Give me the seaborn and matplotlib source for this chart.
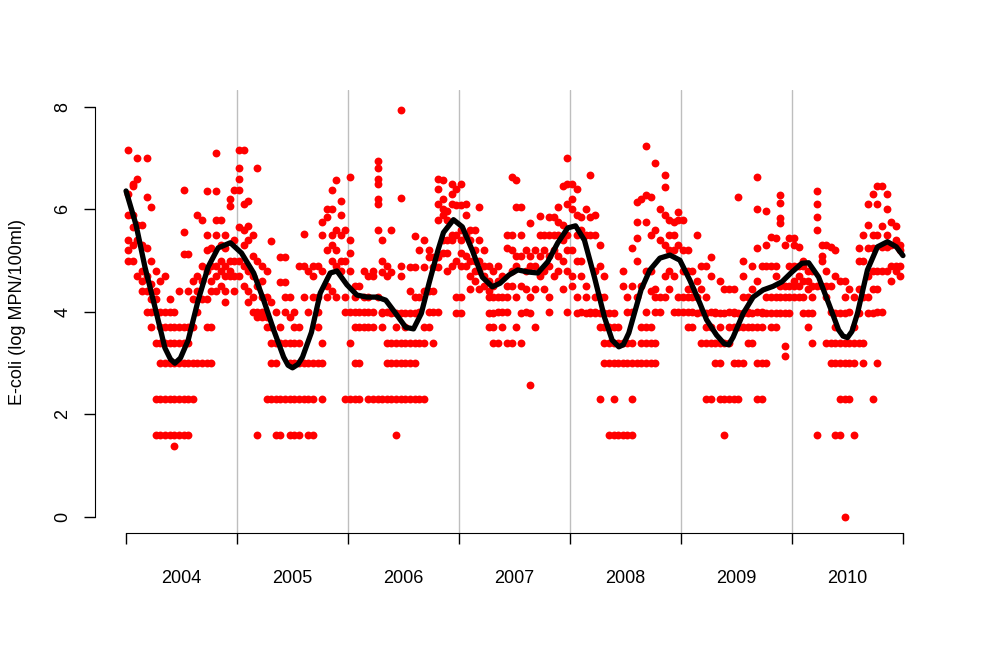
import pandas as pd
import seaborn as sns
import matplotlib.pyplot as plt

sns.set_style("white")
plt.rcParams['font.family'] = ['Liberation Sans', 'DejaVu Sans']

# dias de amostragem (duas campanhas por mes)
sample_days = ["01-08", "01-23", "02-07", "02-22", "03-08", "03-23",
               "04-08", "04-23", "05-08", "05-23", "06-08", "06-23",
               "07-08", "07-23", "08-08", "08-23", "09-08", "09-23",
               "10-08", "10-23", "11-08", "11-23", "12-08", "12-23"]

years = [2004, 2005, 2006, 2007, 2008, 2009, 2010]

# E-coli (log MPN/100ml), uma lista por campanha
ecoli_2004 = [
    [7.16, 6.3, 5.4, 5.9, 5.0, 5.2], [6.5, 6.45, 5.9, 5.65, 5.3, 5.0],
    [7.0, 6.6, 5.7, 5.7, 5.4, 4.7], [5.7, 5.3, 4.8, 4.6, 4.4],
    [7.0, 6.25, 5.25, 4.7, 4.4, 4.0], [6.05, 5.0, 4.55, 4.25, 3.7, 4.0],
    [4.8, 4.4, 4.0, 4.25, 3.4, 2.3, 1.6], [4.6, 4.0, 3.7, 3.4, 3.0, 2.3, 1.6],
    [4.7, 4.0, 3.7, 3.4, 2.3, 1.6, 3.0], [4.25, 4.0, 3.7, 3.0, 2.3, 1.6, 3.4],
    [4.0, 3.7, 3.4, 2.3, 1.6, 1.38, 3.0], [4.4, 3.7, 3.4, 3.0, 2.3, 1.6],
    [6.38, 5.56, 5.13, 3.7, 3.4, 3.0, 2.3, 1.6], [5.13, 4.4, 3.7, 3.4, 3.0, 2.3, 1.6],
    [4.6, 4.25, 3.7, 3.0, 2.3], [5.9, 4.7, 4.4, 4.0, 3.0],
    [5.8, 4.9, 4.6, 4.25, 3.0], [6.35, 5.5, 5.2, 4.8, 4.25, 3.7, 3.0],
    [5.25, 4.9, 4.6, 4.4, 3.7, 3.0], [7.1, 6.35, 5.8, 5.5, 4.9, 4.7, 4.4],
    [5.8, 5.3, 5.0, 4.8, 4.5], [5.5, 5.25, 4.9, 4.7, 4.4, 4.2],
    [6.2, 6.06, 5.0, 4.8, 4.7], [6.38, 5.4, 5.0, 4.7, 4.4],
]
ecoli_2005 = [
    [7.16, 6.8, 6.6, 6.38, 5.66, 5.0, 4.7], [7.16, 6.1, 5.6, 5.3, 4.9, 4.5],
    [6.17, 5.68, 5.4, 4.8, 4.4, 4.2], [5.5, 5.1, 4.7, 4.3, 4.0],
    [6.8, 5.0, 4.5, 4.0, 3.9, 1.6], [4.9, 4.6, 4.3, 4.0, 3.9],
    [4.8, 4.3, 3.9, 3.7, 2.3], [5.38, 4.2, 3.7, 3.4, 3.0, 2.3],
    [4.0, 3.4, 3.0, 2.3, 1.6], [5.07, 4.59, 3.7, 3.4, 2.3, 1.6],
    [5.07, 4.59, 4.3, 4.0, 3.4, 2.3], [4.3, 3.9, 3.4, 3.0, 2.3, 1.6],
    [4.0, 3.7, 3.4, 3.0, 2.3, 1.6], [4.9, 3.7, 3.4, 3.0, 2.3, 1.6],
    [5.52, 4.9, 4.3, 3.0, 2.3], [4.8, 4.0, 3.0, 2.3, 1.6],
    [4.9, 4.7, 4.3, 3.0, 2.3, 1.6], [4.9, 4.3, 4.0, 3.7, 3.0],
    [5.75, 5.5, 4.8, 3.4, 3.0, 2.3], [6.0, 5.85, 5.2, 4.3, 4.5],
    [6.38, 6.0, 5.5, 5.3, 5.0, 4.4], [6.57, 5.6, 5.2, 4.9, 4.3],
    [6.17, 5.9, 5.5, 5.0, 4.8], [5.6, 5.0, 4.3, 4.0, 2.3],
]
ecoli_2006 = [
    [6.63, 5.4, 5.15, 4.8, 4.0, 3.4, 2.3], [4.5, 4.3, 4.0, 3.7, 3.0, 2.3],
    [4.5, 4.0, 3.7, 3.0, 2.3], [4.8, 4.3, 4.0, 3.7],
    [4.7, 4.3, 4.0, 3.7, 2.3], [4.8, 4.7, 4.0, 3.7, 2.3],
    [6.95, 6.8, 6.6, 6.5, 6.2, 6.1, 5.6, 4.3, 2.3], [5.4, 5.0, 4.78, 4.0, 3.97, 3.7, 2.3],
    [4.9, 4.7, 4.0, 3.4, 3.0, 2.3], [5.6, 4.78, 3.97, 3.4, 3.0, 2.3],
    [3.97, 3.7, 3.4, 3.0, 2.3, 1.6], [7.94, 6.22, 4.9, 4.7, 3.97, 3.4, 3.0, 2.3],
    [3.97, 3.7, 3.4, 3.0, 2.3], [4.88, 4.4, 3.97, 3.4, 3.0, 2.3],
    [5.48, 4.88, 4.3, 3.97, 3.4, 3.0, 2.3], [5.2, 4.3, 4.0, 3.4, 2.3],
    [5.4, 4.88, 4.4, 3.7, 3.4, 2.3], [5.2, 5.07, 4.4, 4.0, 3.7],
    [5.07, 4.88, 4.4, 4.0, 3.4], [6.6, 6.4, 6.1, 5.8, 5.07, 4.88, 4.0],
    [6.57, 6.2, 6.0, 5.9, 5.4, 5.15], [5.96, 5.8, 5.4, 5.15, 4.8],
    [6.5, 6.3, 6.1, 5.5, 5.4, 4.9], [6.4, 6.08, 5.5, 5.0, 4.3, 3.97],
]
ecoli_2007 = [
    [6.5, 6.08, 5.6, 5.4, 5.15, 4.9, 4.3, 3.97], [6.1, 5.9, 5.5, 5.1, 4.9],
    [5.6, 5.4, 5.0, 4.7, 4.45], [5.6, 5.2, 5.0, 4.8, 4.6],
    [6.05, 5.4, 5.0, 4.8, 4.45], [5.2, 4.9, 4.7, 4.5],
    [4.9, 4.6, 4.4, 4.3, 3.97, 3.7], [4.8, 4.5, 4.3, 3.97, 3.7, 3.4],
    [4.9, 4.6, 4.3, 4.0, 3.4], [4.7, 4.3, 4.0, 3.7],
    [5.5, 5.25, 4.5, 4.3, 4.0, 3.4], [6.63, 5.5, 5.2, 4.8, 4.5, 3.4],
    [6.57, 6.05, 5.1, 4.9, 4.3, 3.7], [6.05, 5.5, 5.1, 4.5, 3.97, 3.4],
    [5.2, 4.8, 4.45, 4.0], [5.73, 5.1, 4.9, 4.3, 3.97, 2.58],
    [5.2, 4.9, 4.45, 3.7], [5.88, 5.5, 5.1, 4.7],
    [5.5, 5.2, 4.8, 4.45], [5.85, 5.5, 5.1, 4.9, 4.3, 4.0],
    [5.85, 5.5, 5.2, 4.7], [6.05, 5.75, 5.5, 5.1, 4.8],
    [6.45, 5.7, 5.4, 5.0, 4.45], [7.0, 6.5, 6.1, 5.5, 5.2, 4.8, 4.0],
]
ecoli_2008 = [
    [6.5, 6.2, 6.0, 5.2, 4.7, 4.5], [6.4, 5.9, 5.5, 5.0, 4.3, 3.97],
    [5.85, 5.6, 5.0, 4.7, 4.0], [6.0, 5.5, 4.5, 4.3, 3.97],
    [6.67, 5.85, 5.5, 4.0, 3.97], [5.9, 5.5, 4.8, 4.3, 4.0, 3.97],
    [5.3, 4.9, 4.3, 3.97, 3.7, 2.3], [4.7, 4.3, 3.97, 3.7, 3.4, 3.0],
    [3.97, 3.7, 3.4, 3.0, 1.6], [3.97, 3.7, 3.4, 3.0, 2.3, 1.6],
    [3.7, 3.4, 3.0, 1.6], [4.8, 4.5, 3.4, 3.0, 1.6],
    [4.3, 4.0, 3.4, 3.0, 1.6], [5.25, 4.5, 4.0, 3.4, 3.0, 2.3, 1.6],
    [6.15, 5.75, 5.45, 5.0, 4.3, 3.0], [6.2, 4.5, 3.7, 3.4, 3.0],
    [7.24, 6.28, 5.76, 4.8, 4.0, 3.7, 3.4, 3.0], [6.25, 5.5, 4.8, 4.4, 3.7, 3.4, 3.0],
    [6.9, 5.6, 4.45, 4.3, 4.0, 3.4, 3.0], [6.0, 5.4, 4.3, 4.0],
    [6.67, 6.44, 5.9, 5.3, 4.7, 4.3], [5.8, 5.5, 5.2, 4.8, 4.45],
    [5.76, 5.5, 5.2, 4.7, 4.0], [5.95, 5.8, 5.3, 4.3, 4.0],
]
ecoli_2009 = [
    [5.8, 5.2, 4.8, 4.3, 4.0], [5.2, 4.8, 4.45, 4.3, 4.0, 3.7],
    [4.8, 4.45, 4.3, 4.0, 3.7], [5.5, 4.6, 4.3, 3.97],
    [4.9, 4.45, 4.0, 3.4], [4.9, 4.3, 3.97, 3.7, 3.4, 2.3],
    [5.07, 4.7, 4.0, 3.7, 3.4, 2.3], [4.0, 3.97, 3.4, 3.0],
    [4.6, 3.97, 3.7, 3.4, 3.0, 2.3], [4.45, 3.97, 3.4, 2.3, 1.6],
    [4.45, 4.0, 3.7, 3.4, 2.3], [4.45, 4.0, 3.97, 3.7, 3.0, 2.3],
    [6.25, 3.97, 3.7, 3.0, 2.3], [5.0, 4.7, 4.3, 3.97, 3.7, 3.0],
    [4.3, 4.0, 3.97, 3.7, 3.4], [4.9, 4.45, 3.97, 3.7, 3.4],
    [6.63, 6.0, 5.25, 4.6, 4.0, 3.7, 3.0, 2.3], [4.9, 4.0, 3.97, 3.7, 3.0, 2.3],
    [5.97, 5.3, 4.9, 4.3, 3.97, 3.0], [5.46, 4.9, 4.3, 3.97, 3.7],
    [5.45, 4.9, 4.7, 4.3, 3.97, 3.7], [6.28, 6.12, 5.83, 5.74, 4.5, 4.3, 3.97],
    [5.3, 4.5, 4.3, 3.97, 3.34, 3.14], [5.44, 4.9, 4.5, 4.3, 3.97],
]
ecoli_2010 = [
    [5.44, 5.3, 4.9, 4.6, 4.5, 4.3], [5.27, 4.9, 4.7, 4.5, 4.3],
    [5.0, 4.9, 4.6, 4.3, 3.97], [4.8, 4.6, 4.45, 3.97, 3.7],
    [4.8, 4.5, 4.3, 3.97, 3.4], [6.36, 6.1, 5.85, 5.6, 4.5, 1.6],
    [5.3, 5.1, 5.0, 4.5], [5.3, 4.8, 4.5, 4.3, 3.4],
    [5.27, 4.5, 4.0, 3.4, 3.0], [5.2, 4.7, 3.97, 3.7, 3.4, 3.0, 1.6],
    [4.6, 3.97, 3.4, 3.0, 2.3, 1.6], [4.6, 4.3, 3.97, 3.4, 3.0, 2.3, 0.0],
    [4.45, 4.0, 3.4, 3.0, 2.3], [4.3, 3.7, 3.4, 3.0, 1.6],
    [5.25, 5.0, 4.45, 3.97, 3.4], [5.5, 5.0, 4.3, 3.4, 3.0],
    [6.1, 5.7, 5.25, 4.7, 4.3, 3.97], [6.3, 5.5, 5.25, 4.8, 4.45, 3.97, 2.3],
    [6.45, 6.1, 5.5, 4.8, 4.45, 4.0, 3.0], [6.45, 5.68, 5.27, 4.8, 4.0],
    [6.3, 6.0, 5.5, 5.27, 4.8], [5.75, 5.3, 4.9, 4.6],
    [5.68, 5.4, 4.9, 4.8], [5.3, 5.2, 4.9, 4.7],
]

# curva suavizada
smooth_year = [2004.00, 2004.09, 2004.17, 2004.26, 2004.35, 2004.40, 2004.44,
               2004.49, 2004.56, 2004.65,
               2004.74, 2004.83, 2004.94, 2005.04, 2005.15, 2005.24, 2005.33,
               2005.42, 2005.46, 2005.50, 2005.55, 2005.59, 2005.67, 2005.75,
               2005.84, 2005.90,
               2005.99, 2006.08, 2006.17, 2006.26, 2006.34, 2006.43, 2006.52,
               2006.59, 2006.66, 2006.73, 2006.81, 2006.86, 2006.95, 2007.03,
               2007.12, 2007.21, 2007.30, 2007.37, 2007.45, 2007.53, 2007.62,
               2007.71, 2007.80, 2007.89, 2007.98, 2008.05, 2008.13, 2008.22,
               2008.31, 2008.38, 2008.44, 2008.48, 2008.53, 2008.64, 2008.72,
               2008.81, 2008.90, 2008.99, 2009.08, 2009.17, 2009.23, 2009.32,
               2009.39, 2009.43, 2009.47, 2009.56, 2009.65, 2009.74, 2009.83,
               2009.91, 2010.00, 2010.09, 2010.15, 2010.24, 2010.33, 2010.42,
               2010.46, 2010.50, 2010.54, 2010.59, 2010.68, 2010.77, 2010.86,
               2010.94, 2011.00]
smooth_val = [6.36, 5.70, 4.88, 4.10, 3.30, 3.08, 3.00,
              3.10, 3.45, 4.23,
              4.88, 5.25, 5.35, 5.15, 4.76, 4.23, 3.65,
              3.12, 2.96, 2.91, 2.98, 3.12, 3.60, 4.37,
              4.76, 4.80,
              4.53, 4.33, 4.29, 4.29, 4.23, 3.97, 3.70,
              3.67, 3.97, 4.56, 5.20, 5.55, 5.80, 5.66,
              5.20, 4.68, 4.49, 4.56, 4.72, 4.82, 4.78,
              4.76, 4.98, 5.35, 5.64, 5.68, 5.40, 4.68,
              3.90, 3.45, 3.32, 3.36, 3.59, 4.43, 4.82,
              5.05, 5.11, 5.01, 4.62, 4.17, 3.85, 3.55,
              3.38, 3.36, 3.51, 3.97, 4.29, 4.43, 4.50,
              4.59, 4.78, 4.95, 4.96, 4.68, 4.17, 3.65,
              3.53, 3.50, 3.62, 3.97, 4.82, 5.27, 5.37,
              5.27, 5.10]

# montando a tabela de pontos
linhas = []
for ano, campanhas in zip(years, [ecoli_2004, ecoli_2005, ecoli_2006, ecoli_2007,
                                   ecoli_2008, ecoli_2009, ecoli_2010]):
    for md, valores in zip(sample_days, campanhas):
        d = pd.Timestamp(f"{ano}-{md}")
        t = ano + (d.dayofyear - 0.5) / (366 if d.is_leap_year else 365)
        for v in valores:
            linhas.append((t, v))
dados = pd.DataFrame(linhas, columns=['ano', 'ecoli'])

fig = plt.figure(figsize=(9.83, 6.51), dpi=100)
ax = fig.add_axes([0.0966, 0.1806, 0.8536, 0.6804])

for ano in years[1:]:
    ax.axvline(ano, color='#bebebe', lw=1, zorder=0)

sns.scatterplot(data=dados, x='ano', y='ecoli', color='red', s=32,
                linewidth=0, ax=ax, zorder=2)
sns.lineplot(x=smooth_year, y=smooth_val, color='black', lw=3.8, ax=ax, zorder=3)

ax.set_xlim(2003.72, 2011.28)
ax.set_ylim(-0.32, 8.32)
ax.set_xlabel('')
ax.set_ylabel('')

for lado in ['top', 'right']:
    ax.spines[lado].set_visible(False)
ax.spines['left'].set_bounds(0, 8)
ax.spines['bottom'].set_bounds(2004, 2011)
ax.spines['left'].set_color('black')
ax.spines['bottom'].set_color('black')

ax.set_xticks(range(2004, 2012))
ax.set_xticklabels([])
ax.set_xticks([a + 0.5 for a in years], minor=True)
ax.set_xticklabels([str(a) for a in years], minor=True)
ax.tick_params(axis='x', which='major', length=8, width=1, color='black', bottom=True)
ax.tick_params(axis='x', which='minor', length=0, pad=26, labelsize=13,
               labelcolor='black')

ax.set_yticks([0, 2, 4, 6, 8])
ax.tick_params(axis='y', length=8, width=1, color='black', left=True,
               labelsize=13, pad=9, labelrotation=90, labelcolor='black')
for lab in ax.get_yticklabels():
    lab.set_verticalalignment('center')

fig.text(18 / 983, 1 - 312 / 651, 'E-coli (log MPN/100ml)', rotation=90,
         ha='center', va='center', fontsize=13, color='black')

fig.savefig('out.png', dpi=100)
